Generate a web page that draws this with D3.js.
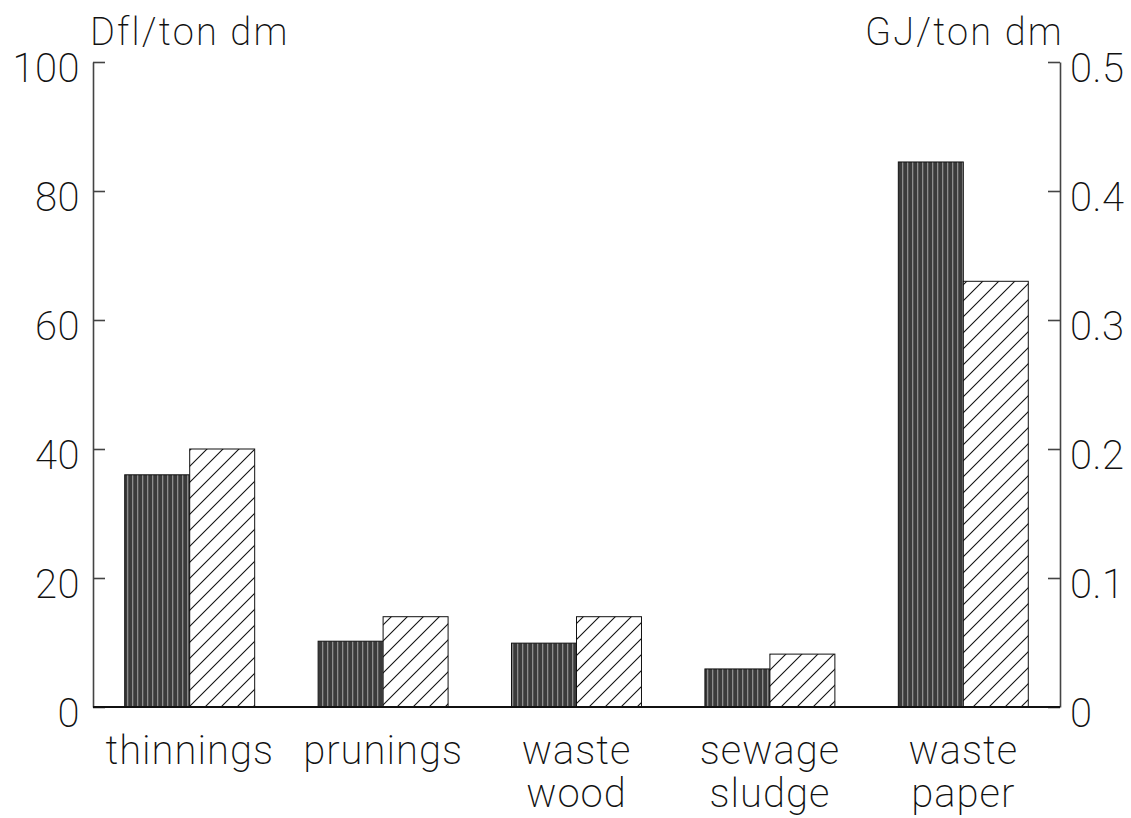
<!DOCTYPE html>
<html>
<head>
<meta charset="utf-8">
<script src="https://cdn.jsdelivr.net/npm/d3@7"></script>
<style>
  html, body { margin: 0; padding: 0; background: #fff; }
  text { font-family: Roboto, "Liberation Sans", sans-serif; font-weight: 200; fill: #111; }
</style>
</head>
<body>
<svg id="chart" width="1131" height="818"></svg>
<script>
const categories = ["thinnings", "prunings", "waste wood", "sewage sludge", "waste paper"];
const labelLines = [["thinnings"], ["prunings"], ["waste", "wood"], ["sewage", "sludge"], ["waste", "paper"]];
const costDfl = [36, 10.2, 9.9, 5.9, 84.5];          // left axis, Dfl/ton dm
const energyGJ = [0.2, 0.07, 0.07, 0.041, 0.33];      // right axis, GJ/ton dm
const leftTicks = [0, 20, 40, 60, 80, 100];
const rightTicks = [0, 0.1, 0.2, 0.3, 0.4, 0.5];
const leftTitle = "Dfl/ton dm";
const rightTitle = "GJ/ton dm";

const svg = d3.select("#chart");
const m = { left: 93, right: 1060, top: 62, bottom: 707 };
const FONT = "Roboto, 'Liberation Sans', sans-serif";

const defs = svg.append("defs");
const pDark = defs.append("pattern").attr("id", "dark")
  .attr("patternUnits", "userSpaceOnUse").attr("width", 5).attr("height", 10);
pDark.append("rect").attr("width", 5).attr("height", 10).attr("fill", "#3a3a3a");
pDark.append("rect").attr("x", 2).attr("width", 1.3).attr("height", 10).attr("fill", "#8c8c8c");

const pHatch = defs.append("pattern").attr("id", "hatch")
  .attr("patternUnits", "userSpaceOnUse").attr("width", 16).attr("height", 16);
pHatch.append("rect").attr("width", 16).attr("height", 16).attr("fill", "#fff");
pHatch.append("path").attr("d", "M0,16 L16,0 M-4,4 L4,-4 M12,20 L20,12")
  .attr("stroke", "#111").attr("stroke-width", 1.1);

const x0 = d3.scaleBand().domain(categories).range([m.left, m.right])
  .paddingInner(0.328).paddingOuter(0.164);
const x1 = d3.scaleBand().domain(["cost", "energy"]).range([0, x0.bandwidth()]);
const yL = d3.scaleLinear().domain([0, 100]).range([m.bottom, m.top]);
const yR = d3.scaleLinear().domain([0, 0.5]).range([m.bottom, m.top]);

const g = svg.append("g");
categories.forEach((c, i) => {
  const bx = x0(c);
  g.append("rect")
    .attr("x", bx + x1("cost")).attr("width", x1.bandwidth())
    .attr("y", yL(costDfl[i])).attr("height", yL(0) - yL(costDfl[i]))
    .attr("fill", "url(#dark)").attr("stroke", "#111").attr("stroke-width", 1);
  g.append("rect")
    .attr("x", bx + x1("energy")).attr("width", x1.bandwidth())
    .attr("y", yR(energyGJ[i])).attr("height", yR(0) - yR(energyGJ[i]))
    .attr("fill", "url(#hatch)").attr("stroke", "#111").attr("stroke-width", 1);
});

// Axes
const axL = d3.axisLeft(yL).tickValues(leftTicks).tickSizeInner(-12).tickSizeOuter(0)
  .tickFormat(d3.format("d"));
const axR = d3.axisRight(yR).tickValues(rightTicks).tickSizeInner(-12).tickSizeOuter(0)
  .tickFormat(d => d === 0 ? "0" : d3.format(".1f")(d));

const gl = svg.append("g").attr("transform", `translate(${m.left},0)`).call(axL);
const gr = svg.append("g").attr("transform", `translate(${m.right},0)`).call(axR);
[gl, gr].forEach(a => {
  a.attr("font-family", null).attr("font-size", null);
  a.select(".domain").attr("stroke", "#444").attr("stroke-width", 1.6);
  a.selectAll(".tick line").attr("stroke", "#444").attr("stroke-width", 1.6);
  a.selectAll(".tick text").attr("font-size", 40).attr("dy", "0.48em")
    .style("font-family", FONT).style("font-weight", 200).attr("fill", "#111")
    .style("letter-spacing", "0.5px");
});
gl.selectAll(".tick text").attr("x", -13);
gr.selectAll(".tick text").attr("x", 10);

// Baseline
svg.append("line").attr("x1", m.left).attr("x2", m.right)
  .attr("y1", yL(0)).attr("y2", yL(0)).attr("stroke", "#111").attr("stroke-width", 2.2);

// Category labels
categories.forEach((c, i) => {
  const cx = x0(c) + x0.bandwidth() / 2;
  const t = svg.append("text").attr("text-anchor", "middle").attr("font-size", 40)
    .style("letter-spacing", "1px");
  labelLines[i].forEach((ln, k) => {
    t.append("tspan").attr("x", cx).attr("y", 764 + k * 43).text(ln);
  });
});

// Axis titles
svg.append("text").attr("x", 90).attr("y", 45).attr("font-size", 38)
  .style("letter-spacing", "2.2px").text(leftTitle);
svg.append("text").attr("x", 1064).attr("y", 45).attr("font-size", 38)
  .style("letter-spacing", "2.2px").attr("text-anchor", "end").text(rightTitle);
</script>
</body>
</html>
